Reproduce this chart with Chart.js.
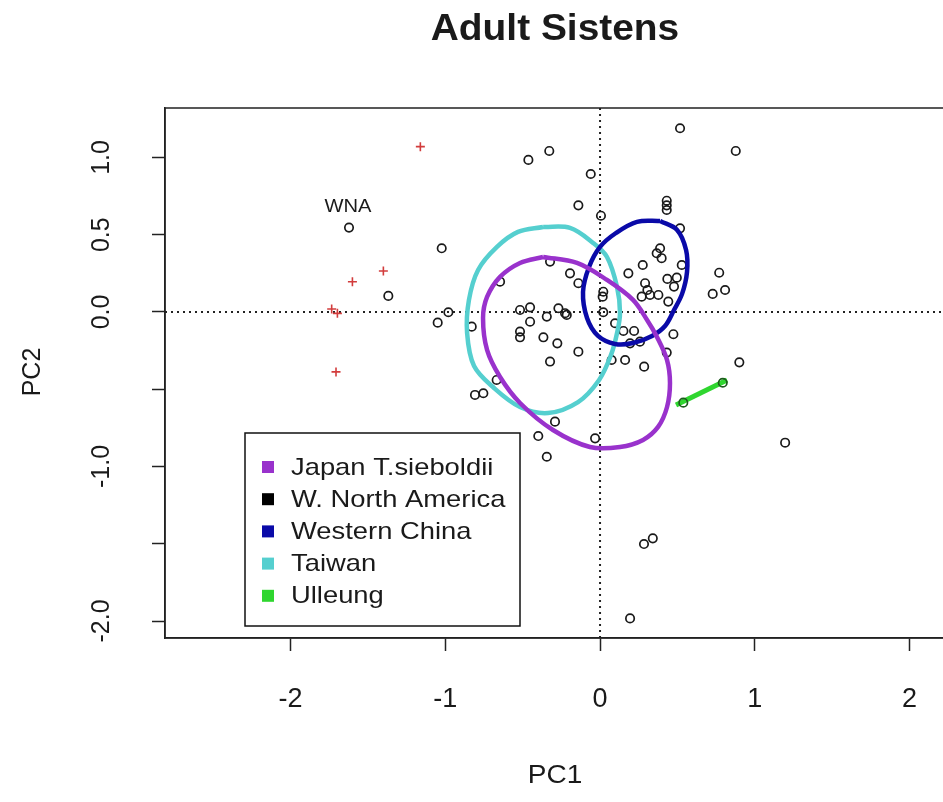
<!DOCTYPE html>
<html>
<head>
<meta charset="utf-8">
<title>Adult Sistens</title>
<script src="https://cdn.jsdelivr.net/npm/chart.js@4.4.1/dist/chart.umd.min.js"></script>
<style>
  html, body { margin: 0; padding: 0; background: #fff; overflow: hidden; }
  #wrap { width: 960px; height: 802px; }
</style>
</head>
<body>
<div id="wrap"><canvas id="pca" width="960" height="802"></canvas></div>
<script>
// axis ticks
const xTicks = [-2, -1, 0, 1, 2];
const yTicks = [-2, -1.5, -1, -0.5, 0, 0.5, 1];
const yTickLabels = ['-2.0', '', '-1.0', '', '0.0', '0.5', '1.0'];

// individual samples (PC1, PC2), black open circles
const samples = [
  [-1.622, 0.546], [-1.023, 0.412], [-1.368, 0.104], [-0.980, -0.002], [-1.049, -0.069], [-0.829, -0.095],
  [-0.463, 0.984], [-0.328, 1.042], [-0.060, 0.893], [0.517, 1.189], [0.877, 1.042], [-0.140, 0.690],
  [0.006, 0.623], [0.431, 0.720], [0.431, 0.690], [0.431, 0.660], [0.517, 0.541],
  [0.388, 0.412], [0.366, 0.380], [0.398, 0.348], [0.276, 0.304], [0.183, 0.250], [0.528, 0.304],
  [0.435, 0.214], [0.496, 0.222], [0.478, 0.164], [0.291, 0.186], [0.306, 0.142], [0.269, 0.099],
  [0.323, 0.110], [0.377, 0.110], [0.441, 0.067], [0.021, 0.131], [0.017, 0.099], [0.021, -0.002],
  [0.097, -0.073], [0.151, -0.123], [0.220, -0.123], [0.474, -0.144], [0.258, -0.192], [0.194, -0.203],
  [0.770, 0.254], [0.808, 0.142], [0.728, 0.117], [0.900, -0.326], [1.196, -0.846], [0.431, -0.263],
  [0.075, -0.311], [0.162, -0.311], [0.285, -0.354], [-0.032, -0.818],
  [-0.323, 0.326], [-0.646, 0.196], [-0.194, 0.250], [-0.140, 0.186], [-0.517, 0.013], [-0.452, 0.030],
  [-0.344, -0.030], [-0.269, 0.024], [-0.215, -0.019], [-0.452, -0.063], [-0.517, -0.127], [-0.517, -0.164],
  [-0.366, -0.164], [-0.276, -0.203], [-0.140, -0.257], [-0.323, -0.321], [-0.668, -0.440], [-0.808, -0.537],
  [-0.754, -0.526], [-0.291, -0.710], [-0.399, -0.803], [-0.344, -0.937], [-0.226, -0.008],
  [0.284, -1.502], [0.341, -1.465], [0.194, -1.983]
];

// red crosses
const crosses = [
  [-1.161, 1.070], [-1.400, 0.265], [-1.600, 0.196], [-1.734, 0.019], [-1.697, -0.009], [-1.706, -0.388]
];

// group ellipse outlines
const japanOutline = [
  [-0.368, 0.356], [-0.149, 0.317], [0.045, 0.207], [0.213, 0.078], [0.304, -0.052], [0.368, -0.162],
  [0.433, -0.311], [0.452, -0.460], [0.433, -0.615], [0.375, -0.744], [0.278, -0.828], [0.129, -0.874],
  [-0.065, -0.874], [-0.304, -0.764], [-0.517, -0.589], [-0.646, -0.421], [-0.730, -0.246], [-0.756, -0.039],
  [-0.730, 0.097], [-0.646, 0.227], [-0.517, 0.317], [-0.368, 0.356]
];
const chinaOutline = [
  [0.388, 0.589], [0.498, 0.531], [0.556, 0.401], [0.562, 0.259], [0.530, 0.117], [0.478, 0.013],
  [0.420, -0.091], [0.336, -0.155], [0.213, -0.201], [0.097, -0.207], [-0.013, -0.155], [-0.084, -0.039],
  [-0.110, 0.129], [-0.071, 0.291], [0.000, 0.421], [0.103, 0.511], [0.239, 0.583], [0.388, 0.589]
];
const taiwanOutline = [
  [-0.368, 0.550], [-0.194, 0.544], [-0.045, 0.447], [0.045, 0.356], [0.110, 0.162], [0.129, -0.006],
  [0.110, -0.136], [0.071, -0.278], [-0.006, -0.440], [-0.142, -0.583], [-0.336, -0.654], [-0.517, -0.615],
  [-0.685, -0.492], [-0.814, -0.350], [-0.859, -0.136], [-0.847, 0.078], [-0.788, 0.272], [-0.666, 0.421],
  [-0.530, 0.518], [-0.368, 0.550]
];
const ulleungLine = [[0.491, -0.602], [0.821, -0.440]];
const ulleungPoints = [[0.538, -0.587], [0.793, -0.458]];

const legendNames = ['Japan T.sieboldii', 'W. North America', 'Western China', 'Taiwan', 'Ulleung'];
const legendColors = ['#9932CC', '#000000', '#0A0AA8', '#55CFCF', '#2FD62F'];

const FONT = '"Liberation Sans", Arial, sans-serif';
const toXY = arr => arr.map(p => ({ x: p[0], y: p[1] }));

function outline(data, color) {
  return {
    data: toXY(data), showLine: true, borderColor: color, borderWidth: 4.5,
    pointRadius: 0, tension: 0.35, fill: false
  };
}

function stretched(ctx, text, x, y, font, sx, align, rot) {
  ctx.save();
  ctx.translate(x, y);
  if (rot) ctx.rotate(rot);
  ctx.scale(sx, 1);
  ctx.font = font;
  ctx.fillStyle = '#1a1a1a';
  ctx.textAlign = align;
  ctx.textBaseline = 'middle';
  ctx.fillText(text, 0, 0);
  ctx.restore();
}

const decor = {
  id: 'decor',
  beforeDatasetsDraw(chart) {
    const { ctx, chartArea: a, scales: { x, y } } = chart;
    ctx.save();
    ctx.strokeStyle = '#222';
    ctx.lineWidth = 2;
    ctx.setLineDash([2, 4]);
    const x0 = x.getPixelForValue(0), y0 = y.getPixelForValue(0);
    ctx.beginPath();
    ctx.moveTo(x0, a.top); ctx.lineTo(x0, a.bottom);
    ctx.moveTo(a.left, y0); ctx.lineTo(a.right, y0);
    ctx.stroke();
    ctx.restore();
  },
  afterDraw(chart) {
    const { ctx, chartArea: a, scales: { x, y } } = chart;
    ctx.save();
    ctx.strokeStyle = '#222';
    ctx.lineWidth = 1.5;
    ctx.strokeRect(a.left, a.top, a.right - a.left, a.bottom - a.top);

    // title and axis titles
    stretched(ctx, 'Adult Sistens', 555, 30, 'bold 36px ' + FONT, 1.08, 'center');
    stretched(ctx, 'PC1', 555, 776, '25px ' + FONT, 1.12, 'center');
    stretched(ctx, 'PC2', 33, 372, '25px ' + FONT, 1.0, 'center', -Math.PI / 2);

    // WNA label above its point
    const wna = samples[0];
    stretched(ctx, 'WNA', x.getPixelForValue(wna[0]) - 1, y.getPixelForValue(wna[1]) - 21,
      '18px ' + FONT, 1.12, 'center');

    // legend box
    ctx.fillStyle = '#fff';
    ctx.fillRect(245, 433, 275, 193);
    ctx.strokeStyle = '#111';
    ctx.lineWidth = 1.5;
    ctx.strokeRect(245, 433, 275, 193);
    legendNames.forEach((name, i) => {
      const cy = 467 + i * 32.2;
      ctx.fillStyle = legendColors[i];
      ctx.fillRect(262, cy - 6, 12, 12);
      stretched(ctx, name, 291, cy + 1, '24px ' + FONT, 1.14, 'left');
    });
    ctx.restore();
  }
};

new Chart(document.getElementById('pca'), {
  type: 'scatter',
  data: {
    datasets: [
      outline(japanOutline, legendColors[0]),
      outline(chinaOutline, legendColors[2]),
      outline(taiwanOutline, legendColors[3]),
      {
        data: toXY(ulleungPoints), pointRadius: 4.2, pointBorderWidth: 1.7,
        pointBorderColor: '#1d5a1d', pointBackgroundColor: 'rgba(0,0,0,0)'
      },
      {
        data: toXY(ulleungLine), showLine: true, borderColor: legendColors[4], borderWidth: 5,
        pointRadius: 0
      },
      {
        data: toXY(samples), pointRadius: 4.2, pointBorderWidth: 1.7,
        pointBorderColor: '#1a1a1a', pointBackgroundColor: 'rgba(0,0,0,0)'
      },
      {
        data: toXY(crosses), pointStyle: 'cross', pointRadius: 4.5, pointBorderWidth: 1.6,
        pointBorderColor: '#D23C3C'
      }
    ]
  },
  options: {
    responsive: false,
    animation: false,
    events: [],
    layout: { padding: { left: 0, top: 108, right: 15, bottom: 0 } },
    plugins: { legend: { display: false }, tooltip: { enabled: false }, title: { display: false } },
    scales: {
      x: {
        type: 'linear', min: -2.811, max: 2.229,
        afterBuildTicks: s => { s.ticks = xTicks.map(v => ({ value: v })); },
        afterFit: s => { s.height = 164; },
        grid: { drawOnChartArea: false, drawTicks: true, tickLength: 13, tickColor: '#222', tickWidth: 1.5, color: '#222' },
        border: { display: true, color: '#222', width: 1.5 },
        ticks: { font: { family: FONT, size: 27 }, color: '#1a1a1a', padding: 32, autoSkip: false, maxRotation: 0 }
      },
      y: {
        type: 'linear', min: -2.110, max: 1.320,
        afterBuildTicks: s => { s.ticks = yTicks.map(v => ({ value: v })); },
        afterFit: s => { s.width = 165; },
        grid: { drawOnChartArea: false, drawTicks: true, tickLength: 13, tickColor: '#222', tickWidth: 1.5, color: '#222' },
        border: { display: true, color: '#222', width: 1.5 },
        ticks: {
          font: { family: FONT, size: 25 }, color: '#1a1a1a', padding: 28, autoSkip: false,
          minRotation: 90, maxRotation: 90, crossAlign: 'center',
          callback: v => { const i = yTicks.indexOf(v); return i >= 0 ? yTickLabels[i] : ''; }
        }
      }
    }
  },
  plugins: [decor]
});
</script>
</body>
</html>
